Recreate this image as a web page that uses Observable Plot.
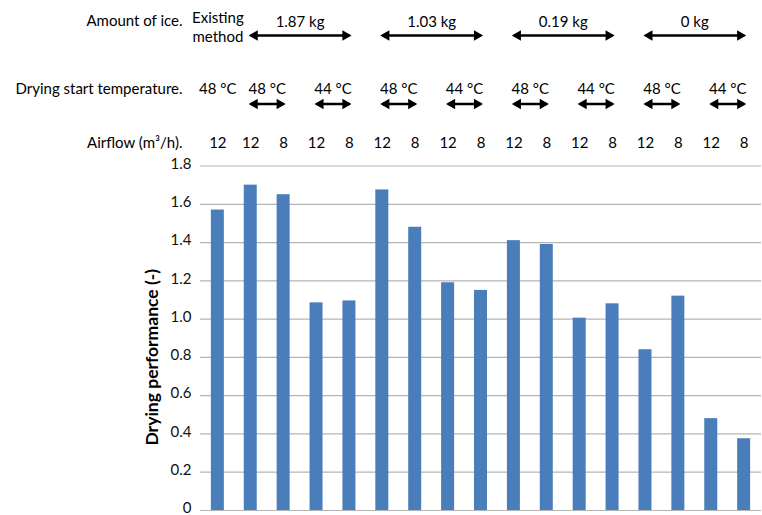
<!DOCTYPE html>
<html>
<head>
<meta charset="utf-8">
<script src="https://cdn.jsdelivr.net/npm/d3@7"></script>
<script src="https://cdn.jsdelivr.net/npm/@observablehq/plot@0.6"></script>
<style>
  body { margin: 0; background: #fff; }
  #chart svg { display: block; }
</style>
</head>
<body>
<div id="chart"></div>
<script>
// ---- data ----
const bars = ["b1","b2","b3","b4","b5","b6","b7","b8","b9","b10","b11","b12","b13","b14","b15","b16","b17"];
const performance = [1.57, 1.70, 1.65, 1.085, 1.095, 1.675, 1.48, 1.19, 1.15, 1.41, 1.39, 1.005, 1.08, 0.84, 1.12, 0.48, 0.375];
const airflow = ["12","12","8","12","8","12","8","12","8","12","8","12","8","12","8","12","8"];
const existingLabel = "Existing\nmethod";
const existingTemp = "48 °C";
const iceGroups = ["1.87 kg", "1.03 kg", "0.19 kg", "0 kg"];
const tempLabels = ["48 °C", "44 °C"];
const rowKeys = ["ice", "temp", "air"];
const rowLabels = ["Amount of ice.", "Drying start temperature.", "Airflow (m³/h)."];
const yTicks = [0, 0.2, 0.4, 0.6, 0.8, 1.0, 1.2, 1.4, 1.6, 1.8];
const yLabel = "Drying performance (-)";

// structure: each ice group spans 4 bars (after the existing-method bar), two per temperature
const groups = iceGroups.map((label, g) => ({label, row: "ice", first: bars[1 + 4*g], mid: bars[2 + 4*g], last: bars[4 + 4*g]}));
const temps = iceGroups.flatMap((_, g) => tempLabels.map((label, k) => ({label, row: "temp", first: bars[1 + 4*g + 2*k], last: bars[2 + 4*g + 2*k]})));
const rows = rowLabels.map((label, i) => ({label, row: rowKeys[i]}));
const existing = [{text: existingLabel, temp: existingTemp, bar: bars[0], ice: "ice", t: "temp"}];
const airRows = airflow.map((text, i) => ({text, bar: bars[i], row: "air"}));

const font = "Lato, 'Open Sans', sans-serif";
const xScale = {type: "band", domain: bars, paddingInner: 0.605, paddingOuter: 0.33, round: false, axis: null};

const main = Plot.plot({
  width: 762, height: 355,
  marginLeft: 200, marginRight: 1, marginTop: 5.5, marginBottom: 5,
  style: {fontFamily: font, fontSize: "15px", color: "#000", background: "#fff", overflow: "visible"},
  x: xScale,
  y: {domain: [0, 1.8], axis: null},
  marks: [
    Plot.gridY(yTicks, {stroke: "#b5b5b5", strokeOpacity: 1, strokeWidth: 1.2}),
    Plot.axisY(yTicks, {tickSize: 0, tickPadding: 9, dy: -2, tickFormat: d => d === 0 ? "0" : d.toFixed(1), label: null, fontSize: 15, fill: "#111"}),
    Plot.barY(performance, {x: bars, y: performance, fill: "#4a7ebb"}),
    Plot.text([yLabel], {frameAnchor: "left", textAnchor: "middle", dx: -48, dy: 19, rotate: -90, fontWeight: "bold", fontSize: 17.5, fill: "#000"})
  ]
});

const step = main.scale("x").step;

// double-headed arrow: shaft + two filled triangular heads
function doubleArrow(data, dy) {
  return [
    Plot.link(data, {x1: "first", x2: "last", y1: "row", y2: "row", dy, stroke: "#000", strokeWidth: 2.4}),
    Plot.dot(data, {x: "last", y: "row", dy, dx: -4, symbol: "triangle", rotate: 90, r: 3.9, fill: "#000", stroke: "none"}),
    Plot.dot(data, {x: "first", y: "row", dy, dx: 4, symbol: "triangle", rotate: -90, r: 3.9, fill: "#000", stroke: "none"})
  ];
}

const header = Plot.plot({
  width: 762, height: 160,
  marginLeft: 200, marginRight: 1, marginTop: 0, marginBottom: 0,
  style: {fontFamily: font, fontSize: "15px", color: "#000", background: "#fff", overflow: "visible"},
  x: xScale,
  y: {type: "point", domain: rowKeys, range: [20, 143], padding: 0, axis: null},
  marks: [
    // row labels
    Plot.text(rows, {filter: d => d.row !== "temp", y: "row", text: "label", frameAnchor: "left", dx: -18, textAnchor: "end", fill: "#000"}),
    Plot.text(rows, {filter: d => d.row === "temp", y: "row", text: "label", frameAnchor: "left", dx: -18, dy: 6.5, textAnchor: "end", fill: "#000"}),
    // amount of ice
    Plot.text(existing, {x: "bar", y: "ice", text: "text", dy: 5, lineHeight: 1.25, fill: "#000"}),
    Plot.text(groups, {x: "mid", y: "row", text: "label", dx: step / 2, dy: 1, fill: "#000"}),
    ...doubleArrow(groups, 14),
    // drying start temperature
    Plot.text(existing, {x: "bar", y: "t", text: "temp", dy: 6.5, fill: "#000"}),
    Plot.text(temps, {x: "first", y: "row", text: "label", dx: step / 2, dy: 6.5, fill: "#000"}),
    ...doubleArrow(temps, 21.5),
    // airflow
    Plot.text(airRows, {x: "bar", y: "row", text: "text", fill: "#000"})
  ]
});

const chart = document.getElementById("chart");
chart.appendChild(header);
chart.appendChild(main);
</script>
</body>
</html>
